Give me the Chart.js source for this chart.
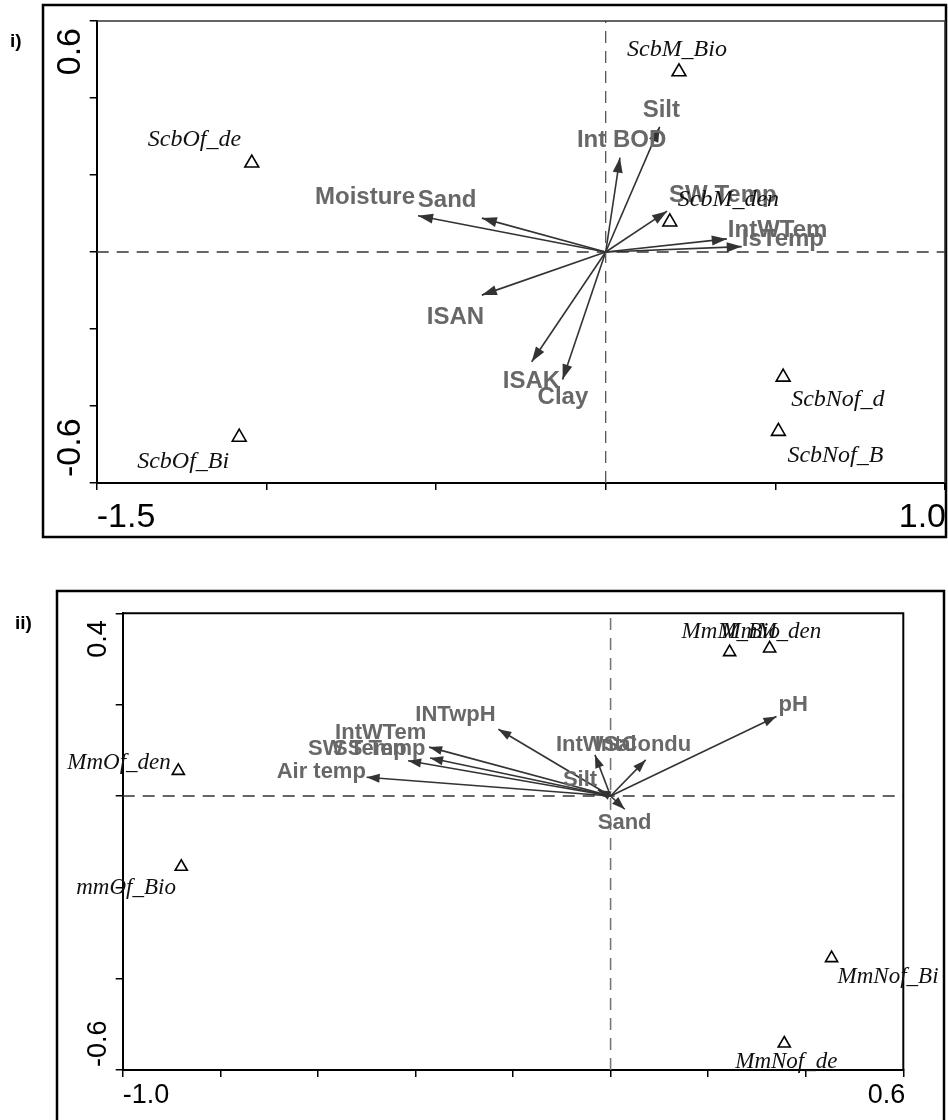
<!DOCTYPE html>
<html>
<head>
<meta charset="utf-8">
<script src="https://cdn.jsdelivr.net/npm/chart.js@4.4.0/dist/chart.umd.min.js"></script>
<style>
html,body{margin:0;padding:0;background:#fff;}
#wrap{position:relative;width:948px;height:1120px;overflow:hidden;background:#fff;}
.pane{position:absolute;left:0;}
canvas{display:block;}
</style>
</head>
<body>
<div id="wrap">
  <div class="pane" style="top:0px;"><canvas id="c1" width="960" height="545"></canvas></div>
  <div class="pane" style="top:560px;"><canvas id="c2" width="948" height="560"></canvas></div>
</div>
<script>
// ================= DATA: panel i =================
const p1XRange = [-1.5, 1.0];
const p1YRange = [-0.6, 0.6];
const p1XStep = 0.5;
const p1YStep = 0.2;
const p1XTickLabels = ['-1.5', '1.0'];
const p1YTickLabels = ['-0.6', '0.6'];
const p1Sites = ['ScbOf_de', 'ScbM_Bio', 'ScbM_den', 'ScbOf_Bi', 'ScbNof_d', 'ScbNof_B'];
const p1SiteX = [-1.043, 0.216, 0.189, -1.080, 0.523, 0.509];
const p1SiteY = [0.231, 0.468, 0.078, -0.481, -0.325, -0.466];
const p1Vars = ['Moisture', 'Sand', 'Int BOD', 'Silt', 'SW Temp', 'IntWTem', 'IsTemp', 'ISAN', 'ISAK', 'Clay'];
const p1VarX = [-0.553, -0.365, 0.042, 0.159, 0.181, 0.357, 0.401, -0.365, -0.218, -0.127];
const p1VarY = [0.094, 0.088, 0.245, 0.325, 0.106, 0.034, 0.014, -0.112, -0.285, -0.331];

// ================= DATA: panel ii =================
const p2XRange = [-1.0, 0.6];
const p2YRange = [-0.6, 0.4];
const p2XStep = 0.2;
const p2YStep = 0.2;
const p2XTickLabels = ['-1.0', '0.6'];
const p2YTickLabels = ['-0.6', '0.4'];
const p2Sites = ['MmOf_den', 'mmOf_Bio', 'MmM_Bio', 'MmM_den', 'MmNof_Bi', 'MmNof_de'];
const p2SiteX = [-0.886, -0.880, 0.244, 0.326, 0.453, 0.356];
const p2SiteY = [0.055, -0.155, 0.315, 0.323, -0.355, -0.542];
const p2Vars = ['Air temp', 'SW Temp', 'SS Temp', 'IntWTem', 'INTwpH', 'IntWSal', 'IntCondu', 'pH', 'Silt', 'Sand'];
const p2VarX = [-0.500, -0.415, -0.370, -0.372, -0.230, -0.032, 0.072, 0.340, -0.026, 0.029];
const p2VarY = [0.041, 0.077, 0.083, 0.107, 0.146, 0.090, 0.079, 0.174, 0.013, -0.029];

// ================= label placement (pixel offsets, style only) =================
const p1SiteLabelOffset = [[-104,-23],[-52,-22],[8,-22],[-102,25],[8,23],[9,24]];
const p1VarLabelOffset  = [[-103,-18],[-64,-18],[-43,-17],[-17,-17],[2,-16],[1,-9],[0,-7],[-55,22],[-29,20],[-25,18]];
const p2SiteLabelOffset = [[-111,-8],[-105,21],[-48,-20],[-48,-17],[6,19],[-49,18]];
const p2VarLabelOffset  = [[-90,-5],[-100,-12],[-97,-9],[-94,-14],[-83,-14],[-39,-10],[-51,-15],[2,-12],[-35,-10],[-27,14]];

// ================= plugin =================
const biplot = {
  id: 'biplot',
  beforeDraw(chart, args, o) {
    const ctx = chart.ctx;
    ctx.save();
    ctx.fillStyle = '#fff';
    ctx.fillRect(0, 0, chart.width, chart.height);
    ctx.strokeStyle = '#000';
    ctx.lineWidth = 2.5;
    ctx.strokeRect(o.outer[0], o.outer[1], o.outer[2], o.outer[3]);
    ctx.fillStyle = '#000';
    ctx.font = 'bold 19px "Liberation Sans", Arial, sans-serif';
    ctx.textAlign = 'left';
    ctx.textBaseline = 'alphabetic';
    ctx.fillText(o.tag, o.tagPos[0], o.tagPos[1]);
    ctx.restore();
  },
  afterDraw(chart, args, o) {
    const ctx = chart.ctx;
    const a = chart.chartArea;
    const xs = chart.scales.x, ys = chart.scales.y;
    ctx.save();
    // plot frame top/right
    ctx.strokeStyle = o.frameColor;
    ctx.lineWidth = o.frameWidth;
    ctx.beginPath();
    ctx.moveTo(a.left, a.top); ctx.lineTo(a.right, a.top); ctx.lineTo(a.right, a.bottom);
    ctx.stroke();

    // arrowheads
    chart.data.datasets.forEach((ds, i) => {
      const meta = chart.getDatasetMeta(i);
      if (ds.kind === 'arrow') {
        const p0 = meta.data[0], p1 = meta.data[1];
        const ang = Math.atan2(p1.y - p0.y, p1.x - p0.x);
        const L = o.headLen, W = o.headHalf;
        ctx.fillStyle = '#333';
        ctx.beginPath();
        ctx.moveTo(p1.x, p1.y);
        ctx.lineTo(p1.x - L*Math.cos(ang) + W*Math.sin(ang), p1.y - L*Math.sin(ang) - W*Math.cos(ang));
        ctx.lineTo(p1.x - L*Math.cos(ang) - W*Math.sin(ang), p1.y - L*Math.sin(ang) + W*Math.cos(ang));
        ctx.closePath();
        ctx.fill();
      }
    });
    // labels
    chart.data.datasets.forEach((ds, i) => {
      const meta = chart.getDatasetMeta(i);
      if (ds.kind === 'arrow') {
        const p1 = meta.data[1];
        ctx.fillStyle = '#686868';
        ctx.font = 'bold ' + o.varFont + 'px "Liberation Sans", Arial, sans-serif';
        ctx.textAlign = 'left';
        ctx.textBaseline = 'middle';
        ctx.fillText(ds.label, p1.x + ds.off[0], p1.y + ds.off[1]);
      } else if (ds.kind === 'sites') {
        ctx.fillStyle = '#111';
        ctx.font = 'italic ' + o.siteFont + 'px "Liberation Serif", "Times New Roman", serif';
        ctx.textAlign = 'left';
        ctx.textBaseline = 'middle';
        meta.data.forEach((pt, j) => {
          ctx.fillText(ds.names[j], pt.x + ds.offs[j][0], pt.y + ds.offs[j][1]);
        });
      }
    });

    // end tick labels
    ctx.fillStyle = '#000';
    ctx.font = o.numFont + 'px "Liberation Sans", Arial, sans-serif';
    ctx.textBaseline = 'alphabetic';
    const xl = xs.getPixelForValue(xs.min), xr = xs.getPixelForValue(xs.max);
    ctx.textAlign = 'left';
    ctx.fillText(o.xLabels[0], xl, a.bottom + o.xLabelDy);
    ctx.textAlign = 'right';
    ctx.fillText(o.xLabels[1], xr + o.xRightDx, a.bottom + o.xLabelDy);
    const yb = ys.getPixelForValue(ys.min), yt = ys.getPixelForValue(ys.max);
    ctx.save();
    ctx.translate(a.left - o.yLabelDx, yb - o.yBottomPad);
    ctx.rotate(-Math.PI/2);
    ctx.textAlign = 'left';
    ctx.fillText(o.yLabels[0], 0, 0);
    ctx.restore();
    ctx.save();
    ctx.translate(a.left - o.yLabelDx, yt + o.yTopPad);
    ctx.rotate(-Math.PI/2);
    ctx.textAlign = 'right';
    ctx.fillText(o.yLabels[1], 0, 0);
    ctx.restore();
    ctx.restore();
  }
};

function buildChart(id, d) {
  const datasets = [];
  datasets.push({
    kind: 'zero', data: [{x: d.xr[0], y: 0}, {x: d.xr[1], y: 0}],
    showLine: true, borderColor: d.hDashColor, borderWidth: d.dashWidth, borderDash: [12, 8],
    pointRadius: 0, fill: false, clip: false
  });
  datasets.push({
    kind: 'zero', data: [{x: 0, y: d.yr[0]}, {x: 0, y: d.yr[1]}],
    showLine: true, borderColor: d.vDashColor, borderWidth: d.dashWidth, borderDash: [12, 8],
    pointRadius: 0, fill: false, clip: false
  });
  d.vars.forEach((name, i) => {
    datasets.push({
      kind: 'arrow', label: name, off: d.varOff[i],
      data: [{x: 0, y: 0}, {x: d.vx[i], y: d.vy[i]}],
      showLine: true, borderColor: '#333', borderWidth: 1.6, pointRadius: 0, fill: false, clip: false
    });
  });
  datasets.push({
    kind: 'sites', names: d.sites, offs: d.siteOff,
    data: d.sx.map((x, i) => ({x: x, y: d.sy[i]})),
    showLine: false, pointStyle: 'triangle', pointRadius: d.triR,
    pointBackgroundColor: 'rgba(0,0,0,0)', pointBorderColor: '#000', pointBorderWidth: 1.6, clip: false
  });
  const axisCommon = (range, step, isX) => ({
    type: 'linear', min: range[0], max: range[1],
    ticks: {display: false, stepSize: step, autoSkip: false},
    grid: {display: true, drawOnChartArea: false, drawTicks: true, tickLength: 7, color: '#000', lineWidth: 1.5},
    border: {display: true, color: '#000', width: 2},
    afterFit(s) { if (isX) s.height = 0; else s.width = 0; }
  });
  return new Chart(document.getElementById(id), {
    type: 'scatter',
    data: {datasets},
    options: {
      responsive: false, animation: false, events: [],
      layout: {padding: d.pad},
      scales: {x: axisCommon(d.xr, d.xs, true), y: axisCommon(d.yr, d.ys, false)},
      plugins: {
        legend: {display: false}, tooltip: {enabled: false},
        biplot: d.plug
      }
    },
    plugins: [biplot]
  });
}

buildChart('c1', {
  xr: p1XRange, yr: p1YRange, xs: p1XStep, ys: p1YStep,
  sites: p1Sites, sx: p1SiteX, sy: p1SiteY, siteOff: p1SiteLabelOffset,
  vars: p1Vars, vx: p1VarX, vy: p1VarY, varOff: p1VarLabelOffset,
  triR: 8, hDashColor: '#333', vDashColor: '#555', dashWidth: 1.3,
  pad: {left: 96.7, top: 21, right: 15, bottom: 62},
  plug: {
    outer: [43, 5, 903, 532], tag: 'i)', tagPos: [10, 47],
    frameColor: '#333', frameWidth: 1.5,
    headLen: 15, headHalf: 5, varFont: 24, siteFont: 24, numFont: 34,
    xLabels: p1XTickLabels, yLabels: p1YTickLabels,
    xLabelDy: 44, xRightDx: 1, yLabelDx: 17, yTopPad: 7, yBottomPad: 6
  }
});

buildChart('c2', {
  xr: p2XRange, yr: p2YRange, xs: p2XStep, ys: p2YStep,
  sites: p2Sites, sx: p2SiteX, sy: p2SiteY, siteOff: p2SiteLabelOffset,
  vars: p2Vars, vx: p2VarX, vy: p2VarY, varOff: p2VarLabelOffset,
  triR: 7, hDashColor: '#333', vDashColor: '#777', dashWidth: 1.6,
  pad: {left: 122.7, top: 53.3, right: 44.7, bottom: 50},
  plug: {
    outer: [57, 31, 887, 600], tag: 'ii)', tagPos: [15, 69],
    frameColor: '#000', frameWidth: 2,
    headLen: 13, headHalf: 4.5, varFont: 22, siteFont: 23, numFont: 27,
    xLabels: p2XTickLabels, yLabels: p2YTickLabels,
    xLabelDy: 33, xRightDx: 2, yLabelDx: 17, yTopPad: 7, yBottomPad: 3
  }
});
</script>
</body>
</html>
